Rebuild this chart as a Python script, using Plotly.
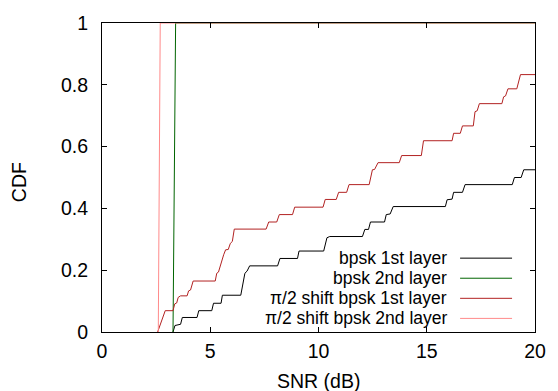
import plotly.graph_objects as go

# ---- data ----
bpsk1_x = [3.28, 3.37, 3.63, 3.71, 4.39, 4.47, 5.07, 5.15, 5.50, 5.56, 6.41, 6.52, 6.60, 6.70,
           6.82, 8.11, 8.22, 9.03, 9.10, 10.24, 10.39, 10.52, 12.03, 12.14, 12.31, 12.40, 13.05,
           13.13, 13.31, 13.45, 15.86, 15.94, 16.17, 16.24, 16.65, 16.77, 18.95, 19.05, 19.36,
           19.48, 20.0]
bpsk1_y = [0.0, 0.021, 0.025, 0.047, 0.047, 0.069, 0.069, 0.093, 0.093, 0.119, 0.119, 0.165,
           0.190, 0.197, 0.214, 0.214, 0.238, 0.238, 0.262, 0.262, 0.305, 0.309, 0.309, 0.332,
           0.332, 0.356, 0.356, 0.380, 0.382, 0.406, 0.406, 0.428, 0.430, 0.452, 0.452, 0.477,
           0.477, 0.500, 0.500, 0.525, 0.525]

bpsk2_x = [3.28, 3.40, 20.0]
bpsk2_y = [0.0, 1.0, 1.0]

pi2_1_x = [2.57, 2.92, 3.28, 3.36, 3.45, 3.52, 3.63, 3.93, 4.00, 4.09, 4.21, 5.23, 5.30, 5.38,
           5.62, 5.71, 5.83, 5.93, 6.02, 6.11, 7.58, 7.70, 8.07, 8.19, 8.80, 8.90, 10.21, 10.31,
           10.82, 10.93, 11.30, 11.41, 12.34, 12.49, 12.59, 12.75, 13.73, 13.84, 14.75, 14.85,
           16.17, 16.24, 16.55, 16.65, 17.15, 17.23, 17.33, 17.43, 18.47, 18.55, 18.64, 18.75,
           19.16, 19.33, 20.0]
pi2_1_y = [0.0, 0.069, 0.069, 0.091, 0.094, 0.112, 0.117, 0.117, 0.133, 0.136, 0.165, 0.165,
           0.190, 0.194, 0.250, 0.266, 0.267, 0.287, 0.293, 0.333, 0.333, 0.356, 0.356, 0.380,
           0.380, 0.404, 0.404, 0.429, 0.429, 0.452, 0.452, 0.477, 0.477, 0.525, 0.526, 0.548,
           0.548, 0.571, 0.571, 0.619, 0.619, 0.643, 0.643, 0.667, 0.667, 0.713, 0.716, 0.739,
           0.739, 0.761, 0.764, 0.787, 0.787, 0.833, 0.833]

pi2_2_x = [2.60, 2.69, 20.0]
pi2_2_y = [0.0, 1.0, 1.0]

series_names = ["bpsk 1st layer", "bpsk 2nd layer", "π/2 shift bpsk 1st layer", "π/2 shift bpsk 2nd layer"]
series_colors = ["#000000", "#006400", "#b22222", "#ff8a8a"]
series_x = [bpsk1_x, bpsk2_x, pi2_1_x, pi2_2_x]
series_y = [bpsk1_y, bpsk2_y, pi2_1_y, pi2_2_y]

x_ticks = [0, 5, 10, 15, 20]
y_ticks = [0, 0.2, 0.4, 0.6, 0.8, 1]
y_tick_labels = ["0", "0.2", "0.4", "0.6", "0.8", "1"]

FONT = "Liberation Sans, Arial, sans-serif"
FS = 19.5
LEG_FS = 17.5

fig = go.Figure()
for name, color, xs, ys in zip(series_names, series_colors, series_x, series_y):
    fig.add_trace(go.Scatter(x=xs, y=ys, mode="lines", name=name,
                             line=dict(color=color, width=1), showlegend=False))

# legend (text on the left, sample line on the right, gnuplot style)
row_y = [0.239, 0.174, 0.109, 0.044]
for name, color, ry in zip(series_names, series_colors, row_y):
    fig.add_annotation(x=0.8005, y=ry, xref="paper", yref="paper", text=name, showarrow=False,
                       xanchor="right", yanchor="middle",
                       font=dict(family=FONT, size=LEG_FS, color="black"))
    fig.add_shape(type="line", xref="paper", yref="paper", x0=0.827, x1=0.947, y0=ry, y1=ry,
                  line=dict(color=color, width=1))

# axis titles
fig.add_annotation(x=-0.19, y=0.484, xref="paper", yref="paper", text="CDF", showarrow=False,
                   textangle=-90, xanchor="center", yanchor="middle",
                   font=dict(family=FONT, size=FS, color="black"))
fig.add_annotation(x=0.501, y=-0.16, xref="paper", yref="paper", text="SNR (dB)", showarrow=False,
                   xanchor="center", yanchor="middle",
                   font=dict(family=FONT, size=FS, color="black"))

axis_common = dict(showline=True, linecolor="black", linewidth=1, mirror="ticks",
                   ticks="inside", ticklen=5, tickcolor="black", tickwidth=1,
                   showgrid=False, zeroline=False,
                   tickfont=dict(family=FONT, size=FS, color="black"))

fig.update_xaxes(range=[0, 20], tickvals=x_ticks, ticktext=[str(v) for v in x_ticks],
                 ticklabelstandoff=2, **axis_common)
fig.update_yaxes(range=[0, 1], tickvals=y_ticks, ticktext=y_tick_labels,
                 ticklabelstandoff=9, **axis_common)

fig.update_layout(width=558, height=391, autosize=False,
                  margin=dict(l=102, r=16, t=18, b=59, pad=0),
                  paper_bgcolor="white", plot_bgcolor="white",
                  font=dict(family=FONT, size=FS, color="black"))

fig.write_html("out.html")
